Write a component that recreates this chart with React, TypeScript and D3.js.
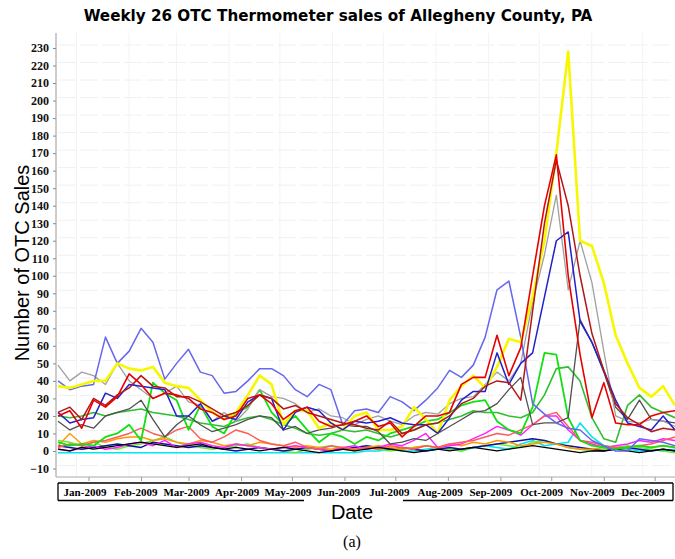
import React, { useEffect, useRef } from 'react'
import * as d3 from 'd3'

// weekly sample dates (week start)
const weeks = [
  '2008-12-14', '2008-12-21', '2008-12-28',
  '2009-01-04', '2009-01-11', '2009-01-18', '2009-01-25',
  '2009-02-01', '2009-02-08', '2009-02-15', '2009-02-22',
  '2009-03-01', '2009-03-08', '2009-03-15', '2009-03-22', '2009-03-29',
  '2009-04-05', '2009-04-12', '2009-04-19', '2009-04-26',
  '2009-05-03', '2009-05-10', '2009-05-17', '2009-05-24', '2009-05-31',
  '2009-06-07', '2009-06-14', '2009-06-21', '2009-06-28',
  '2009-07-05', '2009-07-12', '2009-07-19', '2009-07-26',
  '2009-08-02', '2009-08-09', '2009-08-16', '2009-08-23', '2009-08-30',
  '2009-09-06', '2009-09-13', '2009-09-20', '2009-09-27',
  '2009-10-04', '2009-10-11', '2009-10-18', '2009-10-25',
  '2009-11-01', '2009-11-08', '2009-11-15', '2009-11-22', '2009-11-29',
  '2009-12-06', '2009-12-13',
]

const monthStarts = [
  '2009-01-01', '2009-02-01', '2009-03-01', '2009-04-01', '2009-05-01', '2009-06-01',
  '2009-07-01', '2009-08-01', '2009-09-01', '2009-10-01', '2009-11-01', '2009-12-01',
]

const monthLabels = [
  'Jan-2009', 'Feb-2009', 'Mar-2009', 'Apr-2009', 'May-2009', 'Jun-2009',
  'Jul-2009', 'Aug-2009', 'Sep-2009', 'Oct-2009', 'Nov-2009', 'Dec-2009',
]

const yTickValues = [-10, 0, 10, 20, 30, 40, 50, 60, 70, 80, 90, 100, 110, 120, 130, 140, 150, 160, 170, 180, 190, 200, 210, 220, 230]

// series values, one per week
const cyanSeries = [-1, -1, -1, -1, -1, -1, -1, -1, -1, -1, -1, -1, -1, -1, -1, -1, -1, -1, -1, -1, -1, -1, -1, -1, -1, -1, 0, 0, 1, 0, 0, 1, 2, 1, 0, 2, 3, 2, 1, 4, 6, 3, 4, 5, 16, 8, 3, 2, 1, 0, 1, 0, 1]
const blackSeries = [1, 0, 2, 1, 2, 3, 4, 5, 4, 3, 2, 3, 4, 2, 1, 2, 1, 0, 1, 2, 1, 0, -1, 0, 1, 0, 1, 2, 1, 0, -1, 0, 1, 0, 1, 2, 1, 0, 1, 2, 3, 2, 1, 0, -1, 0, 0, 1, 0, -1, 0, 1, 0]
const navySeries = [3, 2, 1, 2, 3, 4, 3, 2, 5, 4, 3, 2, 3, 2, 1, 0, 1, 2, 1, 0, 1, 2, 1, 0, 1, 2, 3, 2, 1, 2, 1, 0, 1, 2, 1, 2, 3, 4, 5, 6, 7, 6, 4, 3, 2, 1, 0, 1, 2, 1, 0, 1, 0]
const limeSeries = [6, 5, 3, 5, 2, 1, 3, 4, 6, 8, 5, 3, 2, 1, 2, 3, 4, 2, 1, 0, -1, 1, 2, 3, 1, 0, 2, 1, 0, 1, 2, 3, 2, 1, 0, 2, 3, 4, 3, 2, 5, 6, 4, 2, 1, 0, 1, 2, 3, 2, 1, 0, -1]
const orangeSeries = [3, 10, 4, 6, 5, 7, 8, 8, 6, 7, 5, 4, 6, 5, 3, 4, 3, 5, 4, 3, 2, 3, 2, 1, 2, 1, 2, 3, 2, 1, 2, 3, 2, 4, 3, 5, 4, 6, 5, 3, 4, 5, 4, 2, 1, 1, 2, 1, 2, 3, 2, 3, 2]
const magentaSeries = [1, 0, 2, 3, 1, 2, 4, 5, 3, 6, 2, 4, 5, 3, 2, 4, 3, 2, 1, 2, 3, 2, 1, 0, 2, 3, 1, 2, 4, 3, 6, 10, 2, 3, 4, 7, 10, 14, 12, 9, 15, 20, 20, 12, 6, 4, 2, 3, 4, 6, 5, 7, 6]
const salmonSeries = [2, 4, 3, 5, 6, 8, 10, 13, 10, 8, 12, 14, 7, 5, 8, 12, 10, 6, 4, 3, 5, 2, 1, 3, 2, 1, 2, 1, 3, 2, 1, 3, 2, 4, 5, 6, 8, 10, 9, 12, 15, 20, 22, 14, 6, 5, 3, 2, 2, 3, 4, 6, 8]
const greenASeries = [5, 3, 4, 3, 8, 10, 15, 6, 39, 33, 29, 12, 26, 14, 10, 22, 25, 35, 22, 15, 20, 12, 5, 10, 8, 4, 8, 6, 10, 12, 14, 17, 18, 22, 26, 28, 29, 17, 12, 10, 25, 56, 55, 19, 6, 3, 2, 1, 2, 3, 2, 3, 2]
const greenBSeries = [20, 19, 20, 22, 20, 22, 23, 24, 22, 21, 20, 18, 16, 15, 14, 17, 19, 20, 18, 15, 13, 10, 9, 10, 12, 11, 12, 10, 8, 10, 12, 15, 16, 18, 20, 23, 22, 22, 20, 19, 22, 32, 47, 48, 40, 19, 7, 5, 26, 32, 25, 22, 19]
const darkGraySeries = [17, 12, 15, 13, 20, 22, 24, 29, 18, 8, 15, 20, 15, 11, 13, 15, 18, 20, 19, 12, 14, 10, 12, 13, 15, 14, 14, 11, 4, 5, 7, 6, 10, 14, 18, 22, 23, 27, 35, 42, 15, 16, 16, 19, 75, 62, 45, 25, 18, 29, 18, 17, 16]
const lightGraySeries = [49, 40, 45, 43, 38, 50, 40, 35, 30, 33, 37, 28, 26, 17, 22, 17, 24, 35, 31, 30, 27, 22, 24, 20, 19, 15, 18, 20, 17, 15, 20, 22, 21, 27, 30, 31, 38, 45, 40, 50, 85, 112, 146, 92, 120, 96, 57, 20, 17, 16, 18, 17, 14]
const lightBlueSeries = [40, 35, 37, 38, 65, 50, 57, 70, 62, 41, 50, 58, 45, 43, 33, 34, 40, 47, 47, 43, 35, 31, 38, 35, 15, 23, 24, 22, 31, 28, 23, 29, 36, 46, 42, 49, 65, 92, 97, 65, 27, 21, 16, 13, 12, 6, 3, 0, 0, 7, 6, 5, 3]
const yellowSeries = [37, 36, 38, 40, 40, 50, 47, 46, 48, 39, 37, 36, 29, 22, 18, 22, 32, 43, 38, 15, 23, 23, 13, 16, 12, 20, 22, 12, 12, 14, 25, 18, 10, 29, 37, 43, 36, 48, 64, 62, 88, 120, 170, 228, 120, 117, 96, 66, 50, 36, 31, 37, 26]
const blueSeries = [22, 16, 18, 19, 33, 30, 38, 37, 36, 35, 20, 20, 27, 17, 20, 18, 28, 32, 30, 12, 22, 25, 23, 16, 12, 17, 16, 17, 19, 16, 15, 15, 10, 19, 29, 34, 34, 56, 38, 50, 56, 88, 120, 125, 74, 62, 46, 29, 16, 14, 12, 20, 12]
const darkRedSeries = [22, 25, 18, 30, 26, 32, 36, 43, 37, 36, 31, 31, 28, 24, 20, 22, 26, 32, 30, 24, 26, 22, 20, 18, 16, 15, 13, 12, 17, 10, 12, 15, 16, 20, 27, 30, 37, 40, 39, 29, 80, 130, 166, 140, 100, 67, 46, 27, 19, 15, 11, 13, 12]
const redSeries = [20, 23, 13, 29, 25, 31, 44, 38, 30, 33, 32, 30, 24, 22, 18, 20, 30, 32, 27, 18, 23, 25, 17, 14, 15, 17, 20, 14, 16, 8, 14, 20, 20, 22, 38, 42, 42, 66, 43, 59, 100, 140, 169, 100, 55, 19, 39, 16, 15, 15, 20, 22, 23]

const seriesList = [
  { values: cyanSeries, color: '#00e5ee', width: 1.6 },
  { values: limeSeries, color: '#66ee33', width: 1.4 },
  { values: navySeries, color: '#1010a0', width: 1.4 },
  { values: orangeSeries, color: '#ff9900', width: 1.4 },
  { values: magentaSeries, color: '#ff22ff', width: 1.4 },
  { values: salmonSeries, color: '#ff5a5a', width: 1.4 },
  { values: blackSeries, color: '#000000', width: 1.3 },
  { values: greenBSeries, color: '#2fbf2f', width: 1.6 },
  { values: greenASeries, color: '#11e011', width: 1.8 },
  { values: darkGraySeries, color: '#505050', width: 1.3 },
  { values: lightGraySeries, color: '#a0a0a0', width: 1.3 },
  { values: lightBlueSeries, color: '#6666ee', width: 1.5 },
  { values: yellowSeries, color: '#f7f700', width: 2.6 },
  { values: blueSeries, color: '#2222cc', width: 1.5 },
  { values: darkRedSeries, color: '#b01818', width: 1.5 },
  { values: redSeries, color: '#e80000', width: 1.6 },
]

const W = 675
const H = 559
const plot = { left: 56, right: 675, top: 33, bottom: 477 }

const Chart: React.FC = () => {
  const svgRef = useRef<SVGSVGElement | null>(null)

  useEffect(() => {
    const svg = d3.select(svgRef.current)
    svg.selectAll('*').remove()

    const parse = d3.timeParse('%Y-%m-%d')
    const dates = weeks.map((d) => parse(d) as Date)

    const x = d3.scaleTime().domain([dates[0], dates[dates.length - 1]]).range([58, 675])
    const y = d3.scaleLinear().domain([-10, 230]).range([468.5, 48])

    // title
    svg.append('text')
      .attr('x', 338).attr('y', 21)
      .attr('text-anchor', 'middle')
      .attr('font-family', 'DejaVu Sans, sans-serif')
      .attr('font-weight', 'bold')
      .attr('font-size', 15.2)
      .text('Weekly 26 OTC Thermometer sales of Allegheny County, PA')

    // faint background grid
    const grid = svg.append('g')
    grid.selectAll('line.h')
      .data(yTickValues)
      .enter()
      .append('line')
      .attr('x1', plot.left + 2).attr('x2', plot.right)
      .attr('y1', (d) => y(d) - 3).attr('y2', (d) => y(d) - 3)
      .attr('stroke', '#f0f0f0')
      .attr('stroke-dasharray', '18,4')
    grid.selectAll('line.v')
      .data(monthStarts.map((d) => parse(d) as Date))
      .enter()
      .append('line')
      .attr('x1', (d) => x(d) - 12).attr('x2', (d) => x(d) - 12)
      .attr('y1', plot.top).attr('y2', plot.bottom)
      .attr('stroke', '#f3f3f3')

    // clip for lines
    svg.append('clipPath').attr('id', 'plotclip')
      .append('rect')
      .attr('x', plot.left).attr('y', plot.top)
      .attr('width', plot.right - plot.left).attr('height', plot.bottom - plot.top)

    const line = d3.line<number>()
      .x((_, i) => x(dates[i]))
      .y((d) => y(d))

    svg.append('g')
      .attr('clip-path', 'url(#plotclip)')
      .selectAll('path')
      .data(seriesList)
      .enter()
      .append('path')
      .attr('d', (s) => line(s.values))
      .attr('fill', 'none')
      .attr('stroke', (s) => s.color)
      .attr('stroke-width', (s) => s.width)
      .attr('stroke-linejoin', 'round')

    // y axis
    const yAxis = svg.append('g')
      .attr('transform', `translate(${plot.left},0)`)
      .call(d3.axisLeft(y).tickValues(yTickValues).tickSize(3).tickPadding(4))
    yAxis.select('.domain').remove()
    yAxis.selectAll('.tick line').attr('stroke', '#888')
    yAxis.selectAll('text')
      .attr('font-family', 'Liberation Serif, serif')
      .attr('font-weight', 'bold')
      .attr('font-size', 12)
      .attr('fill', '#111')
    svg.append('line')
      .attr('x1', plot.left).attr('x2', plot.left)
      .attr('y1', plot.top).attr('y2', plot.bottom)
      .attr('stroke', '#999')

    // x axis ticks at month starts
    const xAxis = svg.append('g')
      .attr('transform', `translate(0,${plot.bottom})`)
      .call(d3.axisBottom(x)
        .tickValues(monthStarts.map((d) => parse(d) as Date))
        .tickSize(4)
        .tickFormat(() => ''))
    xAxis.select('.domain').remove()
    xAxis.selectAll('.tick line').attr('stroke', '#999')
    svg.append('line')
      .attr('x1', plot.left).attr('x2', plot.right)
      .attr('y1', plot.bottom).attr('y2', plot.bottom)
      .attr('stroke', '#aaa')

    // boxed month labels
    const box = { x0: 58, x1: 673, y0: 483, y1: 500.5 }
    const boxSegs = [
      [box.x0, box.y0, box.x1, box.y0],
      [box.x0, box.y0, box.x0, box.y1],
      [box.x1, box.y0, box.x1, box.y1],
      [box.x0, box.y1, 304, box.y1],
      [403, box.y1, box.x1, box.y1],
    ]
    svg.append('g')
      .selectAll('line')
      .data(boxSegs)
      .enter()
      .append('line')
      .attr('x1', (d) => d[0]).attr('y1', (d) => d[1])
      .attr('x2', (d) => d[2]).attr('y2', (d) => d[3])
      .attr('stroke', '#000')
      .attr('stroke-width', 1.3)

    const xl = d3.scalePoint<string>().domain(monthLabels).range([85, 643])
    svg.append('g')
      .selectAll('text')
      .data(monthLabels)
      .enter()
      .append('text')
      .attr('x', (d) => xl(d)!)
      .attr('y', 496)
      .attr('text-anchor', 'middle')
      .attr('font-family', 'Liberation Serif, serif')
      .attr('font-weight', 'bold')
      .attr('font-size', 11)
      .text((d) => d)

    // axis titles
    svg.append('text')
      .attr('x', 352).attr('y', 519)
      .attr('text-anchor', 'middle')
      .attr('font-family', 'Liberation Sans, Arial, sans-serif')
      .attr('font-size', 20)
      .text('Date')

    svg.append('text')
      .attr('transform', 'translate(29,263) rotate(-90)')
      .attr('text-anchor', 'middle')
      .attr('font-family', 'Liberation Sans, Arial, sans-serif')
      .attr('font-size', 20)
      .text('Number of OTC Sales')

    svg.append('text')
      .attr('x', 352).attr('y', 547)
      .attr('text-anchor', 'middle')
      .attr('font-family', 'Liberation Serif, serif')
      .attr('font-size', 16)
      .text('(a)')
  }, [])

  return (
    <svg
      ref={svgRef}
      width={W}
      height={H}
      style={{ position: 'absolute', left: 0, top: 0, background: '#fff' }}
    />
  )
}

export default function App() {
  return <Chart />
}
